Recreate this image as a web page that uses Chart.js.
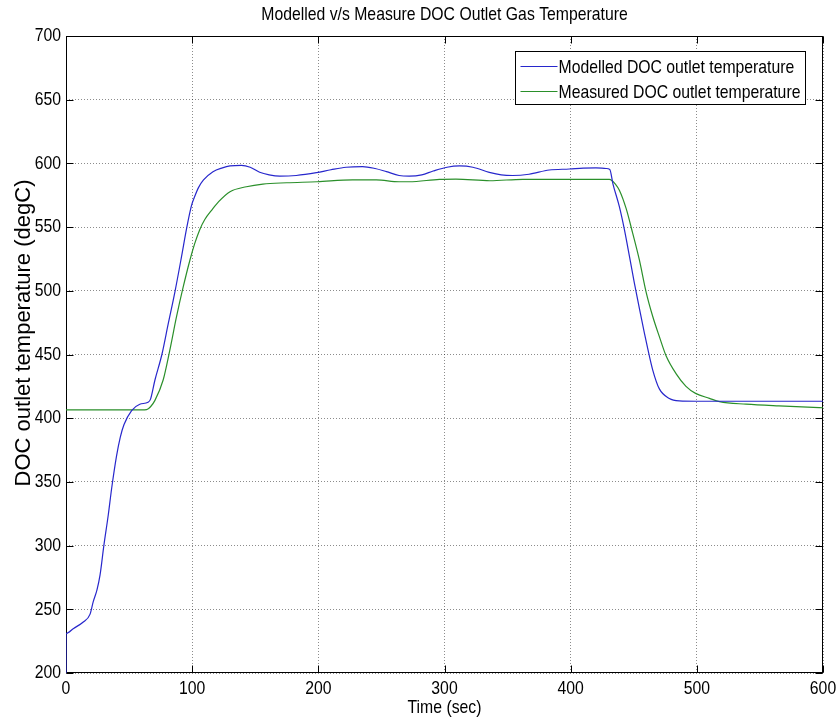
<!DOCTYPE html>
<html lang="en">
  <head>
    <meta charset="UTF-8" />
    <meta name="viewport" content="width=device-width, initial-scale=1.0" />
    <title>DOC Outlet Gas Temperature</title>
    <script src="https://cdn.jsdelivr.net/npm/chart.js@4.4.0/dist/chart.umd.min.js"></script>
    <style>
      html, body { margin: 0; padding: 0; background: #fff; }
    </style>
  </head>
  <body>
    <canvas id="chart" width="838" height="722"></canvas>

    <script>
      // modelled DOC outlet temperature
      const modelledTime = [0, 0, 6, 13.7, 19, 21.6, 24.5, 27, 30, 33.5, 36.2, 40, 43, 46, 52, 58.5, 65, 67, 70.5, 76, 81, 86.3, 91.6, 95.6, 99.5, 102, 105, 109, 116.5, 124, 130, 139, 146, 153.5, 161, 169.5, 182.5, 198.5, 210, 222, 235, 245, 254, 264, 272, 282, 291, 302, 312, 322.5, 335.5, 345, 354, 367, 383, 399, 410, 420, 428, 431, 433.5, 438.6, 442.6, 446.6, 450.5, 454.5, 458.4, 461, 465, 470.3, 478.2, 486, 500, 550, 600];
      const modelledTemp = [200, 231, 235, 240, 246, 256, 265, 277, 300, 324, 345, 370, 385, 395, 406, 411, 412.5, 415, 430, 450, 474, 499, 527, 549, 567, 574, 581, 587, 593.5, 596.5, 598, 598.5, 597, 593, 591, 590, 590.5, 592.7, 595, 597, 597.5, 596, 593.5, 590.5, 590, 591, 594, 597, 598, 597, 593, 591, 590.5, 591.5, 594.8, 595.6, 596.3, 596.5, 596, 595.3, 584, 566, 548, 527, 506, 486, 467, 455, 438, 423, 415.5, 413.6, 413.3, 413.3, 413.3];

      // measured DOC outlet temperature
      const measuredTime = [0, 20, 40, 55, 63.9, 67, 70.5, 77, 82.3, 87.6, 92.9, 98.2, 102, 106, 110, 116, 121, 130, 143, 156, 175, 199, 227, 246, 264, 272, 296, 309, 336, 362, 388, 415, 430.7, 436, 438.6, 444, 449.2, 454.5, 459.8, 465, 470.3, 475.6, 483.5, 491.4, 499, 510, 518, 539, 565, 597, 600];
      const measuredTemp = [406.5, 406.5, 406.5, 406.5, 406.8, 409, 414, 430, 453.5, 479.7, 503, 524, 537, 548, 556, 564, 570, 577.8, 581.7, 583.8, 584.8, 585.6, 587, 587, 585.6, 585.6, 587.5, 587.7, 586.4, 587.5, 587.5, 587.5, 587.5, 583, 579, 564.5, 545, 524, 499, 480, 464, 449, 435, 425, 419.5, 415.6, 413, 411, 409.6, 408.3, 408.2];

      const seriesLabels = ["Modelled DOC outlet temperature", "Measured DOC outlet temperature"];
      const titleText = "Modelled v/s Measure DOC Outlet Gas Temperature";
      const xTitle = "Time (sec)";
      const yTitle = "DOC outlet temperature (degC)";

      const family = "'Liberation Sans', Arial, sans-serif";

      const toPoints = (xs, ys) => xs.map((x, i) => ({ x: x, y: ys[i] }));

      // condensed text, like the old figure export
      function narrowText(ctx, text, x, y, align) {
        ctx.save();
        ctx.translate(x, y);
        ctx.scale(0.83, 1);
        ctx.textAlign = align;
        ctx.fillText(text, 0, 0);
        ctx.restore();
      }

      // box and inward ticks under the lines, labels and legend on top
      const matlabFrame = {
        id: "matlabFrame",
        beforeDatasetsDraw(chart) {
          const { ctx, chartArea: a, scales } = chart;
          const L = Math.round(a.left) + 0.5, R = Math.round(a.right) - 0.5;
          const T = Math.round(a.top) + 0.5, B = Math.round(a.bottom) - 0.5;
          ctx.save();
          ctx.strokeStyle = "#000";
          ctx.lineWidth = 1;
          ctx.strokeRect(L, T, R - L, B - T);

          ctx.beginPath();
          scales.x.ticks.forEach((t) => {
            const px = Math.round(scales.x.getPixelForValue(t.value)) + 0.5;
            ctx.moveTo(px, B); ctx.lineTo(px, B - 7);
            ctx.moveTo(px, T); ctx.lineTo(px, T + 7);
          });
          scales.y.ticks.forEach((t) => {
            const py = Math.round(scales.y.getPixelForValue(t.value)) + 0.5;
            ctx.moveTo(L, py); ctx.lineTo(L + 7, py);
            ctx.moveTo(R, py); ctx.lineTo(R - 7, py);
          });
          ctx.stroke();
          ctx.restore();
        },
        afterDraw(chart) {
          const { ctx, chartArea: a, scales } = chart;
          ctx.save();
          ctx.fillStyle = "#000";
          ctx.textBaseline = "middle";
          ctx.font = "19px " + family;
          scales.x.ticks.forEach((t) => {
            narrowText(ctx, String(t.value), scales.x.getPixelForValue(t.value), a.bottom + 16, "center");
          });
          scales.y.ticks.forEach((t) => {
            narrowText(ctx, String(t.value), a.left - 5, scales.y.getPixelForValue(t.value), "right");
          });
          narrowText(ctx, titleText, (a.left + a.right) / 2, 15, "center");
          narrowText(ctx, xTitle, (a.left + a.right) / 2, 708, "center");

          ctx.save();
          ctx.translate(24, 333);
          ctx.rotate(-Math.PI / 2);
          ctx.font = "22px " + family;
          ctx.textAlign = "center";
          ctx.fillText(yTitle, 0, 0);
          ctx.restore();

          // legend
          const bx = 515.5, by = 51.5, bw = 290, bh = 53;
          ctx.fillStyle = "#fff";
          ctx.fillRect(bx, by, bw, bh);
          ctx.strokeStyle = "#000";
          ctx.lineWidth = 1;
          ctx.strokeRect(bx, by, bw, bh);
          chart.data.datasets.forEach((ds, i) => {
            const y = Math.round(by + 14 + i * 25.5) + 0.5;
            ctx.strokeStyle = ds.borderColor;
            ctx.beginPath();
            ctx.moveTo(bx + 5, y);
            ctx.lineTo(bx + 42, y);
            ctx.stroke();
            ctx.fillStyle = "#000";
            narrowText(ctx, ds.label, bx + 43, y + 1, "left");
          });
          ctx.restore();
        },
      };

      const ctx = document.getElementById("chart").getContext("2d");
      const myChart = new Chart(ctx, {
        type: "line",
        data: {
          datasets: [
            {
              label: seriesLabels[0],
              data: toPoints(modelledTime, modelledTemp),
              borderColor: "#2727cc",
              borderWidth: 1.2,
              pointRadius: 0,
              fill: false,
              cubicInterpolationMode: "monotone",
            },
            {
              label: seriesLabels[1],
              data: toPoints(measuredTime, measuredTemp),
              borderColor: "#2a8f2a",
              borderWidth: 1.2,
              pointRadius: 0,
              fill: false,
              cubicInterpolationMode: "monotone",
            },
          ],
        },
        options: {
          responsive: false,
          animation: false,
          layout: { padding: { top: 36, right: 15, left: 0, bottom: 0 } },
          plugins: {
            legend: { display: false },
            title: { display: false },
            tooltip: { enabled: false },
          },
          scales: {
            x: {
              type: "linear",
              min: 0,
              max: 600,
              ticks: { stepSize: 100, display: false },
              grid: { color: "rgba(0,0,0,0.45)", drawTicks: false },
              border: { display: false, dash: [1, 2] },
              afterFit: (s) => { s.height = 49; },
            },
            y: {
              min: 200,
              max: 700,
              ticks: { stepSize: 50, display: false },
              grid: { color: "rgba(0,0,0,0.45)", drawTicks: false },
              border: { display: false, dash: [1, 2] },
              afterFit: (s) => { s.width = 66; },
            },
          },
        },
        plugins: [matlabFrame],
      });
    </script>
  </body>
</html>
